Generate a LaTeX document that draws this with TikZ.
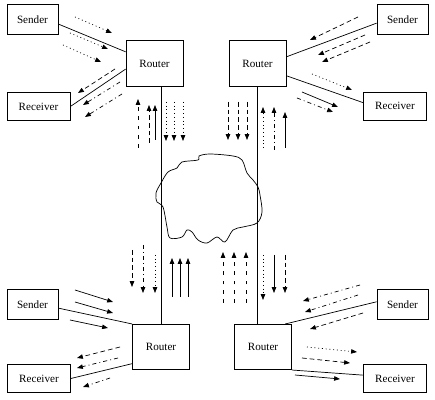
\documentclass[tikz,border=0pt]{standalone}
\usepackage{fontspec}
\setmainfont{Liberation Serif}
\usetikzlibrary{arrows.meta}

\begin{document}
\begin{tikzpicture}[x=0.03cm, y=-0.03cm, line width=0.6pt]

        \tikzstyle{host} = [rectangle, inner sep=0pt, text centered, draw=black, font=\fontsize{9.5}{11}\selectfont]
        \tikzstyle{sender} = [host, minimum width=1.53cm, minimum height=0.9cm]
        \tikzstyle{receiver} = [host, minimum width=1.89cm, minimum height=0.84cm]
        \tikzstyle{router} = [host, minimum width=1.71cm, minimum height=1.36cm]
        \tikzstyle{flow} = [-{Triangle[length=5pt,width=3.8pt]}]
        \tikzstyle{dots} = [dash pattern=on 0.8pt off 2.4pt]
        \tikzstyle{dashes} = [dash pattern=on 4pt off 2.6pt]
        \tikzstyle{dashdot} = [dash pattern=on 3.5pt off 2.6pt on 0.8pt off 2.6pt]
        \tikzstyle{sparse} = [dash pattern=on 3pt off 5pt]

        \useasboundingbox (0,0) rectangle (435,400);

        % hosts and routers
        \node (sTL) [sender] at (32.5,19.5) {Sender};
        \node (rTL) [router] at (154.5,63.5) {Router};
        \node (cTL) [receiver] at (38.5,106.5) {Receiver};
        \node (sTR) [sender] at (402.5,19.5) {Sender};
        \node (rTR) [router] at (257.5,63.5) {Router};
        \node (cTR) [receiver] at (395,106) {Receiver};
        \node (sBL) [sender] at (32.5,304.5) {Sender};
        \node (rBL) [router] at (161,347) {Router};
        \node (cBL) [receiver] at (39,378.5) {Receiver};
        \node (sBR) [sender] at (402.5,304.5) {Sender};
        \node (rBR) [router] at (263,347) {Router};
        \node (cBR) [receiver] at (395,378.5) {Receiver};

        % links
        \draw (sTL.-10) -- (rTL.158);
        \draw (cTL.east) -- (rTL.191);
        \draw (sTR.188) -- (rTR.13);
        \draw (rTR.-23) -- (cTR.174);
        \draw (sBL.-8) -- (rBL.north west);
        \draw (cBL.east) -- (rBL.210);
        \draw (sBR.174) -- (rBR.46);
        \draw (rBR.south east) -- (cBR.174);
        \draw (rBL.north) -- (rBL.north |- rTL.south);
        \draw (rTR.south) -- (rTR.south |- rBR.north);

        % network cloud
        \draw plot[smooth cycle, tension=0.55] coordinates {(199,156) (210,154) (233,156) (242,160) (247,173) (253,180) (258,187) (260,195) (262,212) (257,223) (243,227) (233,230) (225,242) (217,237) (207,243) (198,240) (192,232) (187,230) (182,237) (170,238) (167,227) (163,207) (157,202) (156,193) (161,183) (168,172) (177,168) (182,162) (198,160)};

        % top left flows
        \draw [flow, dots] (75,17) -- (112,33);
        \draw [flow, dots] (70,33) -- (108,49);
        \draw [flow, dots] (63,45) -- (101,62);
        \draw [flow, dashes] (115,69) -- (78,93);
        \draw [flow, dashdot] (120,82) -- (83,105);
        \draw [flow, dashdot] (122,94) -- (85,117);
        \draw [flow, sparse] (138,148) -- (138,99);
        \draw [flow, dashes] (149,143) -- (149,105);
        \draw [flow] (155,140) -- (155,105);
        \foreach \x in {166,174,183}
            \draw [flow, dots] (\x,102) -- (\x,141);

        % top right flows
        \foreach \x in {228,238,247}
            \draw [flow, dashes] (\x,102) -- (\x,140);
        \draw [flow, dots] (263,148) -- (263,107);
        \draw [flow, dashdot] (274,150) -- (274,107);
        \draw [flow] (285,148) -- (285,112);
        \draw [flow, dashes] (358,17) -- (310,40);
        \draw [flow, dashes] (365,35) -- (318,55);
        \draw [flow, dashes] (370,42) -- (322,62);
        \draw [flow, dots] (312,74) -- (352,90);
        \draw [flow] (302,92) -- (338,107);
        \draw [flow, dashdot] (297,98) -- (333,112);

        % bottom left flows
        \draw [flow, dashes] (132,250) -- (132,287);
        \draw [flow, dashdot] (143,245) -- (143,293);
        \draw [flow, dots] (155,255) -- (155,293);
        \foreach \x in {172,180,188}
            \draw [flow] (\x,297) -- (\x,258);
        \draw [flow] (75,290) -- (113,302);
        \draw [flow] (75,302) -- (113,313);
        \draw [flow] (70,320) -- (108,328);
        \draw [flow, dashes] (120,347) -- (77,358);
        \draw [flow, dashdot] (118,358) -- (77,368);
        \draw [flow, dashdot] (110,378) -- (83,387);

        % bottom right flows
        \foreach \x in {223,234,246}
            \draw [flow, sparse] (\x,303) -- (\x,252);
        \draw [flow, dots] (263,255) -- (263,300);
        \draw [flow] (274,255) -- (274,293);
        \draw [flow, dashes] (285,255) -- (285,293);
        \draw [flow, dashdot] (360,285) -- (303,301);
        \draw [flow, dashdot] (358,295) -- (305,312);
        \draw [flow, dashes] (363,313) -- (310,329);
        \draw [flow, dots] (307,347) -- (357,352);
        \draw [flow, dashes] (302,358) -- (350,363);
        \draw [flow] (295,375) -- (340,379);
    \end{tikzpicture}
\end{document}
